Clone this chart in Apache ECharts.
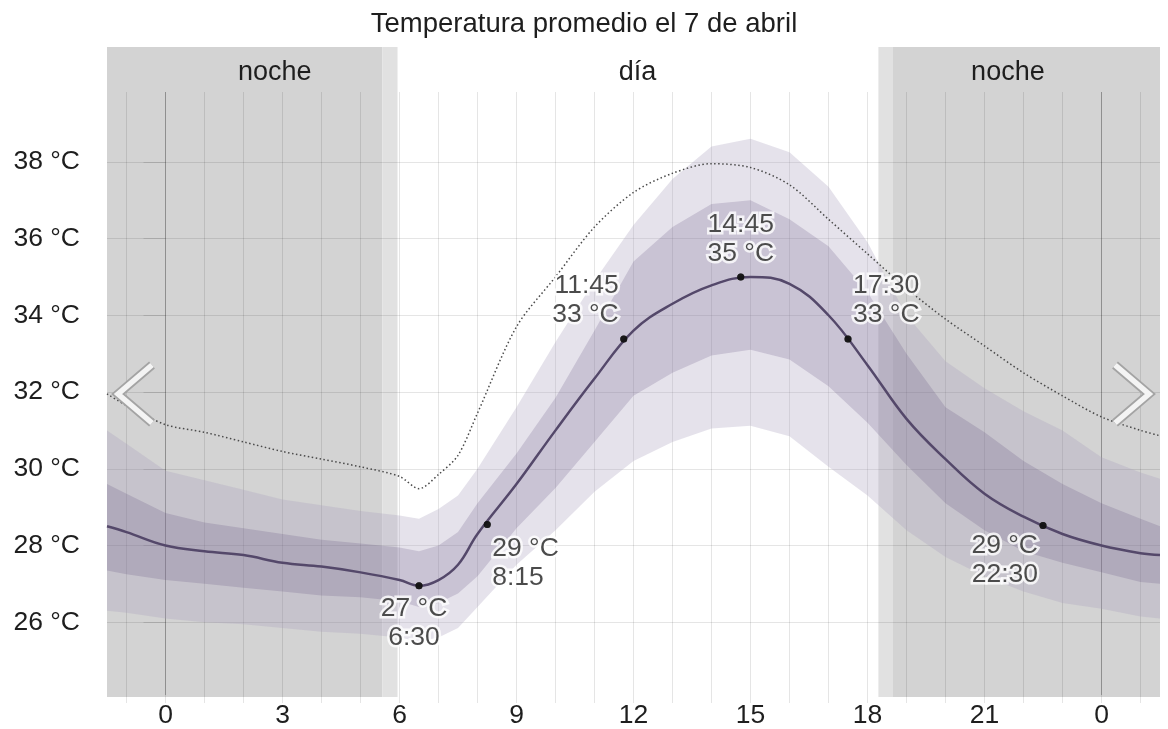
<!doctype html>
<html>
	<head>
		<meta charset="utf-8">
		<title>Temperatura promedio el 7 de abril</title>
		<style>
			html, body { margin: 0; padding: 0; background: #fff; }
		</style>
	</head>
	<body>
		<script src="https://cdn.jsdelivr.net/npm/echarts@6/dist/echarts.min.js"></script>

		<div id="chart" style="width: 1168px; height: 729px;"></div>

		<script>
			// hours of the day (values past 24 belong to the next day)
			let hours = [-1.5, -1, 0, 1, 2, 3, 4, 5, 6, 6.5, 7, 7.5, 8, 9, 10, 11, 12, 13, 14, 15, 16, 17, 18, 19, 20, 21, 22, 23, 24, 25, 25.5];

			// percentile bands, median and perceived temperature (°C)
			let p10 = [26.3, 26.25, 26.1, 26.0, 25.95, 25.85, 25.75, 25.7, 25.6, 25.5, 25.6, 25.85, 26.4, 27.5, 28.4, 29.4, 30.2, 30.7, 31.05, 31.12, 30.85, 30.05, 29.3, 28.4, 27.7, 27.2, 26.8, 26.5, 26.35, 26.15, 26.1];
			let p25 = [27.35, 27.25, 27.1, 27.0, 26.9, 26.8, 26.7, 26.65, 26.55, 26.4, 26.5, 26.75, 27.2, 28.45, 29.5, 30.7, 31.9, 32.5, 32.95, 33.1, 32.85, 32.15, 31.2, 30.1, 29.1, 28.4, 27.85, 27.55, 27.3, 27.05, 27.0];
			let median = [28.5, 28.35, 28.0, 27.85, 27.75, 27.55, 27.45, 27.3, 27.1, 26.95, 27.1, 27.5, 28.3, 29.6, 31.0, 32.35, 33.6, 34.3, 34.78, 35.0, 34.82, 34.0, 32.7, 31.3, 30.25, 29.35, 28.75, 28.3, 28.0, 27.8, 27.75];
			let p75 = [29.6, 29.35, 28.85, 28.6, 28.45, 28.3, 28.15, 28.05, 27.95, 27.85, 28.0, 28.35, 29.1, 30.4, 31.85, 33.6, 35.4, 36.3, 36.9, 37.0, 36.5, 35.8, 34.6, 33.0, 31.6, 30.95, 30.2, 29.6, 29.1, 28.7, 28.5];
			let p90 = [31.0, 30.65, 29.95, 29.7, 29.45, 29.2, 29.05, 28.9, 28.78, 28.7, 28.95, 29.3, 30.0, 31.6, 33.3, 34.9, 36.35, 37.55, 38.4, 38.6, 38.25, 37.35, 35.9, 34.0, 32.8, 32.1, 31.5, 31.0, 30.3, 29.9, 29.74];
			let feelsLike = [31.95, 31.65, 31.15, 30.95, 30.7, 30.45, 30.25, 30.05, 29.8, 29.48, 29.85, 30.35, 31.45, 33.7, 35.0, 36.3, 37.2, 37.7, 37.95, 37.85, 37.4, 36.5, 35.6, 34.7, 33.9, 33.2, 32.5, 31.9, 31.35, 31.0, 30.86];

			// annotated points on the median line
			let keyHours = [6.5, 8.25, 11.75, 14.75, 17.5, 22.5];
			let keyTemps = [26.95, 28.55, 33.38, 35.0, 33.38, 28.52];

			// night / twilight / day boundaries (hours)
			let periodBounds = [-1.5, 5.56, 5.95, 18.28, 18.64, 25.5];
			let periodNames = ["noche", "día", "noche"];
			let periodLabelHours = [2.8, 12.1, 21.6];

			// axes
			let gridHours = [-1, 0, 1, 2, 3, 4, 5, 6, 7, 8, 9, 10, 11, 12, 13, 14, 15, 16, 17, 18, 19, 20, 21, 22, 23, 24, 25];
			let xTickHours = [0, 3, 6, 9, 12, 15, 18, 21, 24];
			let yTicks = [26, 28, 30, 32, 34, 36, 38];

			const FONT = "Liberation Sans, Arial, sans-serif";
			const TXT = "#1e1e1e";

			const pairs = (ys) => hours.map((h, i) => [h, ys[i]]);

			function fmtTime(h) {
				let hh = Math.floor(h);
				let mm = Math.round((h - hh) * 60);
				return hh + ":" + String(mm).padStart(2, "0");
			}

			// band between two percentile lines, drawn through the axes' scales
			function band(lo, hi, color) {
				return (params, api) => {
					let top = hours.map((h, i) => api.coord([h, hi[i]]));
					let bottom = hours.map((h, i) => api.coord([h, lo[i]])).reverse();
					return {
						type: "polygon",
						silent: true,
						shape: { points: top.concat(bottom) },
						style: { fill: color }
					};
				};
			}

			// label placement for each annotated point
			let keyLabelStyle = [
				{ position: "bottom", align: "center", offset: [-5, 0], distance: 5 },
				{ position: "bottom", align: "left",   offset: [5, 0],  distance: 6 },
				{ position: "top",    align: "right",  offset: [-5, 0], distance: 6 },
				{ position: "top",    align: "center", offset: [0, 0],  distance: 5 },
				{ position: "top",    align: "left",   offset: [5, 0],  distance: 6 },
				{ position: "bottom", align: "right",  offset: [-5, 0], distance: 2 },
			];

			let keyData = keyHours.map((h, i) => {
				let st = keyLabelStyle[i];
				let t = Math.round(keyTemps[i]) + " °C";
				let time = fmtTime(h);
				return {
					value: [h, keyTemps[i]],
					label: {
						position: st.position,
						align: st.align,
						offset: st.offset,
						distance: st.distance,
						formatter: st.position == "top" ? time + "\n" + t : t + "\n" + time,
					}
				};
			});

			let lightLine = "rgba(0,0,0,0.1)";
			let midnightLine = "rgba(0,0,0,0.32)";

			let labelBase = {
				show: true,
				fontFamily: FONT,
				fontSize: 26.5,
				lineHeight: 29
			};

			let dom = document.getElementById("chart");
			let myChart = echarts.init(dom, null, { width: 1168, height: 729 });

			let opts = {
				animation: false,
				title: {
					text: "Temperatura promedio el 7 de abril",
					left: "center",
					top: 5,
					textStyle: { fontFamily: FONT, fontSize: 27.5, fontWeight: "normal", color: TXT }
				},
				grid: [
					{ left: 107, right: 8, top: 47, bottom: 32 },
					{ left: 107, right: 8, top: 92, bottom: 32 },
				],
				xAxis: [
					{
						// night shading + period names
						gridIndex: 0,
						type: "value",
						position: "top",
						min: -1.5,
						max: 25.5,
						z: 0,
						axisLine: { show: false },
						axisTick: { show: false, customValues: periodBounds },
						splitLine: { show: false },
						splitArea: {
							show: true,
							areaStyle: { color: ["#d3d3d3", "#e1e1e1", "rgba(255,255,255,0)", "#e1e1e1", "#d3d3d3"] }
						},
						axisLabel: {
							inside: true,
							margin: 12,
							customValues: periodLabelHours,
							formatter: (v) => periodNames[periodLabelHours.indexOf(v)],
							fontFamily: FONT,
							fontSize: 27,
							color: TXT
						}
					},
					{
						gridIndex: 1,
						type: "value",
						min: -1.5,
						max: 25.5,
						z: 1,
						axisLine: { show: false },
						axisTick: {
							show: true,
							length: 8,
							customValues: gridHours,
							lineStyle: { color: lightLine }
						},
						splitLine: {
							show: true,
							lineStyle: {
								width: 1,
								color: gridHours.map(h => h % 24 === 0 ? midnightLine : lightLine)
							}
						},
						axisLabel: {
							margin: 7,
							customValues: xTickHours,
							formatter: (v) => String(v % 24),
							fontFamily: FONT,
							fontSize: 26.5,
							color: TXT
						}
					}
				],
				yAxis: [
					{ gridIndex: 0, type: "value", min: 0, max: 1, show: false },
					{
						gridIndex: 1,
						type: "value",
						min: 24.104,
						max: 39.818,
						z: 1,
						axisLine: { show: false },
						axisTick: {
							show: true,
							length: 22,
							customValues: yTicks,
							lineStyle: { color: lightLine }
						},
						splitLine: { show: true, lineStyle: { color: lightLine, width: 1 } },
						axisLabel: {
							margin: 27,
							customValues: yTicks,
							formatter: (v) => v + " °C",
							fontFamily: FONT,
							fontSize: 26.5,
							color: TXT
						}
					}
				],
				series: [
					{
						name: "p10-p90",
						type: "custom",
						xAxisIndex: 1, yAxisIndex: 1,
						z: 2,
						renderItem: band(p10, p90, "rgba(170,160,190,0.3)"),
						data: [0]
					},
					{
						name: "p25-p75",
						type: "custom",
						xAxisIndex: 1, yAxisIndex: 1,
						z: 2,
						renderItem: band(p25, p75, "rgba(88,70,120,0.2)"),
						data: [0]
					},
					{
						name: "sensación",
						type: "line",
						xAxisIndex: 1, yAxisIndex: 1,
						symbol: "none",
						smooth: 0.3,
						z: 3,
						lineStyle: { color: "#4a4a4a", width: 1.5, type: [1.5, 2.5] },
						data: pairs(feelsLike)
					},
					{
						name: "mediana",
						type: "line",
						xAxisIndex: 1, yAxisIndex: 1,
						symbol: "none",
						smooth: 0.4,
						z: 3,
						lineStyle: { color: "#54486a", width: 2.5 },
						data: pairs(median)
					},
					{
						// white halo behind the annotations
						name: "halo",
						type: "scatter",
						xAxisIndex: 1, yAxisIndex: 1,
						symbolSize: 7,
						z: 4,
						silent: true,
						itemStyle: { color: "#111" },
						label: Object.assign({}, labelBase, {
							color: "#fff",
							textBorderColor: "#fff",
							textBorderWidth: 5
						}),
						data: keyData
					},
					{
						name: "puntos",
						type: "scatter",
						xAxisIndex: 1, yAxisIndex: 1,
						symbolSize: 7,
						z: 5,
						itemStyle: { color: "#111" },
						label: Object.assign({}, labelBase, { color: TXT }),
						data: keyData
					}
				],
				graphic: [
					{
						type: "polyline", z: 10, silent: true,
						shape: { points: [[152, 365], [118, 394], [152, 423]] },
						style: { stroke: "#a4a4a4", lineWidth: 9, fill: null, lineJoin: "miter" }
					},
					{
						type: "polyline", z: 11, silent: true,
						shape: { points: [[152, 365], [118, 394], [152, 423]] },
						style: { stroke: "#f4f4f4", lineWidth: 5.5, fill: null, lineJoin: "miter" }
					},
					{
						type: "polyline", z: 10, silent: true,
						shape: { points: [[1115, 365], [1149, 394], [1115, 423]] },
						style: { stroke: "#a4a4a4", lineWidth: 9, fill: null, lineJoin: "miter" }
					},
					{
						type: "polyline", z: 11, silent: true,
						shape: { points: [[1115, 365], [1149, 394], [1115, 423]] },
						style: { stroke: "#f4f4f4", lineWidth: 5.5, fill: null, lineJoin: "miter" }
					}
				]
			};

			myChart.setOption(opts, { notMerge: true });
		</script>
	</body>
</html>
